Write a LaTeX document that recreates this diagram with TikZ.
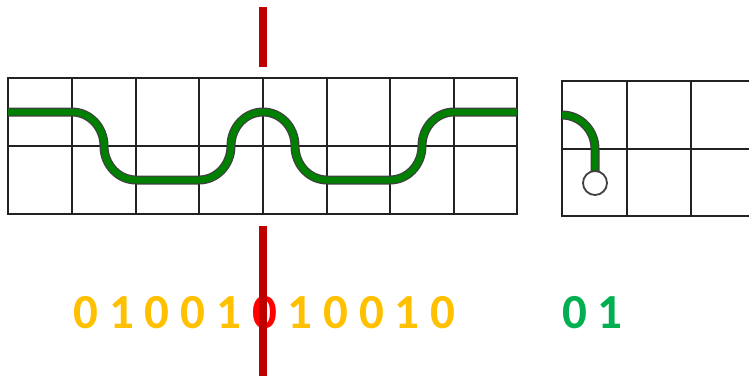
\documentclass[tikz,border=0pt]{standalone}
\usepackage{fontspec}
\setmainfont{Carlito}
\definecolor{bitorange}{HTML}{FFC000}
\definecolor{bitred}{HTML}{FF0000}
\definecolor{bitgreen}{HTML}{00B050}
\definecolor{cutred}{HTML}{C00000}
\definecolor{wire}{HTML}{008000}
\definecolor{gridc}{HTML}{222222}
\begin{document}
\begin{tikzpicture}[x=1pt,y=1pt,
  gridline/.style={draw=gridc,line width=1.8pt,line cap=rect},
  wireout/.style={draw=black!75,line width=9pt},
  wirein/.style={draw=wire,line width=6.5pt},
  digit/.style={font=\fontsize{49}{49}\selectfont\bfseries,anchor=base,inner sep=0pt},
  cut/.style={draw=cutred,line width=8pt}]
\useasboundingbox (0,0) rectangle (749,376);
\fill[white] (0,0) rectangle (749,376);
% left grid
\foreach \xx in {8,72,136,199,263,327,390,454,517} {\draw[gridline] (\xx,162) -- (\xx,298);}
\foreach \yy in {162,230,298} {\draw[gridline] (8,\yy) -- (517,\yy);}
% right grid
\foreach \xx in {562,627,691} {\draw[gridline] (\xx,160) -- (\xx,295);}
\foreach \yy in {160,227,295} {\draw[gridline] (562,\yy) -- (749,\yy);}
% wire in left grid
\foreach \s in {wireout,wirein} {
\draw[\s] (8,264) -- (72,264)
  arc[start angle=90,end angle=0,x radius=32,y radius=34]
  arc[start angle=180,end angle=270,x radius=32,y radius=34]
  -- (199,196)
  arc[start angle=270,end angle=360,x radius=32,y radius=34]
  arc[start angle=180,end angle=90,x radius=32,y radius=34]
  arc[start angle=90,end angle=0,x radius=32,y radius=34]
  arc[start angle=180,end angle=270,x radius=32,y radius=34]
  -- (390,196)
  arc[start angle=270,end angle=360,x radius=32,y radius=34]
  arc[start angle=180,end angle=90,x radius=32,y radius=34]
  -- (517,264);
\draw[\s] (562,261) arc[start angle=90,end angle=0,x radius=33,y radius=34] -- (595,205);
}
\node[circle,draw=black!75,line width=1.8pt,fill=white,minimum size=24pt,inner sep=0pt] (ball) at (595,193) {};
% bits
\foreach \b [count=\k] in {0,1,0,0,1} {
  \node[digit,text=bitorange] (d\k) at ({86+35.7*(\k-1)},48) {\b};
}
\node[digit,text=bitred] (d6) at ({86+35.7*5},48) {0};
\foreach \b [count=\k from 7] in {1,0,0,1,0} {
  \node[digit,text=bitorange] (d\k) at ({86+35.7*(\k-1)},48) {\b};
}
\node[digit,text=bitgreen] (g1) at (574.5,48) {0};
\node[digit,text=bitgreen] (g2) at (610,48) {1};
% cut line
\coordinate (ctop1) at (263,369);
\coordinate (ctop2) at (263,309);
\coordinate (cbot1) at (263,150);
\coordinate (cbot2) at (263,0);
\draw[cut] (ctop1) -- (ctop2);
\draw[cut] (cbot1) -- (cbot2);
\end{tikzpicture}
\end{document}
